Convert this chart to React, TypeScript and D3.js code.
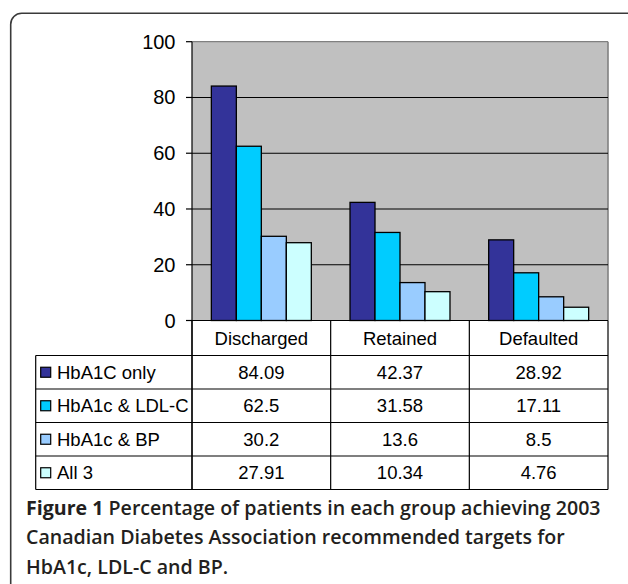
import React from "react";
import * as d3 from "d3";

const categories = ["Discharged", "Retained", "Defaulted"];
const seriesNames = ["HbA1C only", "HbA1c & LDL-C", "HbA1c & BP", "All 3"];
const seriesColors = ["#333399", "#00ccff", "#99ccff", "#ccffff"];
const hba1cOnly = [84.09, 42.37, 28.92];
const hba1cLdl = [62.5, 31.58, 17.11];
const hba1cBp = [30.2, 13.6, 8.5];
const all3 = [27.91, 10.34, 4.76];
const seriesValues = [hba1cOnly, hba1cLdl, hba1cBp, all3];
const yTicks = [0, 20, 40, 60, 80, 100];
const captionBold = "Figure 1";
const captionLines = [
  " Percentage of patients in each group achieving 2003",
  "Canadian Diabetes Association recommended targets for",
  "HbA1c, LDL-C and BP.",
];

export default function App() {
  const W = 628;
  const H = 584;
  const plotL = 192;
  const plotR = 608;
  const plotT = 41.7;
  const plotB = 320.5;
  const y = d3.scaleLinear().domain([0, 100]).range([plotB, plotT]);
  const x0 = d3.scaleBand().domain(categories).range([plotL, plotR]).paddingInner(0).paddingOuter(0);
  const x1 = d3
    .scaleBand()
    .domain(seriesNames)
    .range([0, x0.bandwidth()])
    .paddingInner(0)
    .paddingOuter(0.774);
  const headerBottom = 355.5;
  const tableLeft = 35.7;
  const tableBottom = 489.5;
  const rowH = (tableBottom - headerBottom) / seriesNames.length;
  const font = "'Liberation Sans', Arial, Helvetica, sans-serif";
  const capFont = "'Open Sans', 'Noto Sans', sans-serif";
  const colEdges = [plotL, ...categories.map((c) => (x0(c) as number) + x0.bandwidth())];

  return (
    <svg width={W} height={H} style={{ position: "absolute", left: 0, top: 0 }}>
      <rect x={0} y={0} width={W} height={H} fill="#ffffff" />
      <rect x={10.7} y={13.3} width={640} height={620} rx={11} fill="none" stroke="#3a3a3a" strokeWidth={1.6} />
      {/* plot background */}
      <rect x={plotL} y={plotT} width={plotR - plotL} height={plotB - plotT} fill="#c0c0c0" />
      <line x1={plotL} x2={plotR} y1={plotT} y2={plotT} stroke="#808080" strokeWidth={1.3} />
      <line x1={plotR} x2={plotR} y1={plotT} y2={plotB} stroke="#808080" strokeWidth={1.6} />
      {yTicks.filter((t) => t > 0 && t < 100).map((t) => (
        <line key={t} x1={plotL} x2={plotR} y1={y(t)} y2={y(t)} stroke="#000" strokeWidth={1.1} />
      ))}
      {/* bars */}
      {categories.map((c, ci) =>
        seriesNames.map((s, si) => {
          const v = seriesValues[si][ci];
          const bx = (x0(c) as number) + (x1(s) as number);
          return (
            <rect
              key={c + s}
              x={bx}
              y={y(v)}
              width={x1.bandwidth()}
              height={plotB - y(v)}
              fill={seriesColors[si]}
              stroke="#000"
              strokeWidth={1.3}
            />
          );
        })
      )}
      {/* y axis */}
      <line x1={plotL} x2={plotL} y1={plotT} y2={tableBottom} stroke="#000" strokeWidth={1.2} />
      {yTicks.map((t) => (
        <g key={t}>
          <line x1={plotL - 6} x2={plotL} y1={y(t)} y2={y(t)} stroke="#000" strokeWidth={1.2} />
          <text x={175.5} y={y(t) + 7} textAnchor="end" fontFamily={font} fontSize={20} fill="#000">
            {t}
          </text>
        </g>
      ))}
      {/* table */}
      <line x1={plotL} x2={plotR} y1={plotB} y2={plotB} stroke="#000" strokeWidth={1.2} />
      {colEdges.map((cx, i) => (
        <line key={i} x1={cx} x2={cx} y1={plotB} y2={tableBottom} stroke="#000" strokeWidth={1.2} />
      ))}
      <line x1={tableLeft} x2={tableLeft} y1={headerBottom} y2={tableBottom} stroke="#000" strokeWidth={1.2} />
      {seriesNames.map((s, i) => (
        <line key={s} x1={tableLeft} x2={plotR} y1={headerBottom + i * rowH} y2={headerBottom + i * rowH} stroke="#000" strokeWidth={1.2} />
      ))}
      <line x1={tableLeft} x2={plotR} y1={tableBottom} y2={tableBottom} stroke="#000" strokeWidth={1.2} />
      {categories.map((c) => (
        <text
          key={c}
          x={(x0(c) as number) + x0.bandwidth() / 2}
          y={(plotB + headerBottom) / 2 + 6.5}
          textAnchor="middle"
          fontFamily={font}
          fontSize={18.5}
          fill="#000"
        >
          {c}
        </text>
      ))}
      {seriesNames.map((s, si) => {
        const cy = headerBottom + si * rowH + rowH / 2;
        return (
          <g key={s}>
            <rect x={40.7} y={cy - 5} width={10} height={10} fill={seriesColors[si]} stroke="#000" strokeWidth={1.2} />
            <text x={57} y={cy + 6.5} fontFamily={font} fontSize={18.5} fill="#000">
              {s}
            </text>
            {categories.map((c, ci) => (
              <text
                key={c}
                x={(x0(c) as number) + x0.bandwidth() / 2}
                y={cy + 6.5}
                textAnchor="middle"
                fontFamily={font}
                fontSize={18.5}
                fill="#000"
              >
                {String(seriesValues[si][ci])}
              </text>
            ))}
          </g>
        );
      })}
      {/* caption */}
      <text x={26} y={514.5} fontFamily={capFont} fontSize={19.6} fill="#231f20">
        <tspan fontWeight={700}>{captionBold}</tspan>
        <tspan fontWeight={600}>{captionLines[0]}</tspan>
      </text>
      {captionLines.slice(1).map((l, i) => (
        <text key={i} x={26} y={544 + i * 29.5} fontFamily={capFont} fontSize={19.6} fontWeight={600} fill="#231f20">
          {l}
        </text>
      ))}
    </svg>
  );
}
